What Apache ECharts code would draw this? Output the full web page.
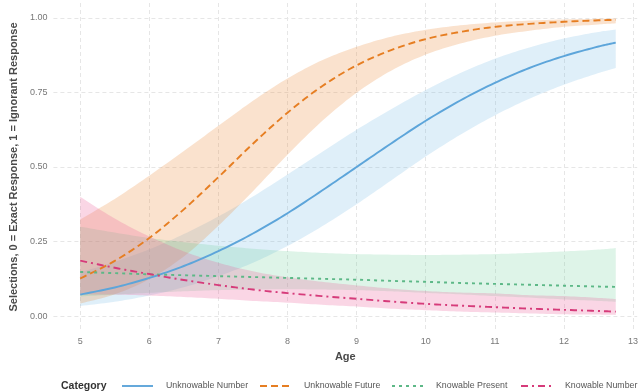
<!DOCTYPE html>
<html>
<head>
<meta charset="utf-8">
<script src="https://cdn.jsdelivr.net/npm/echarts@6/dist/echarts.min.js"></script>
<style>html,body{margin:0;padding:0;background:#fff}#c{width:641px;height:392px}</style>
</head>
<body>
<div id="c"></div>
<script>
const ages = [5, 5.5, 6, 6.5, 7, 7.5, 8, 8.5, 9, 9.5, 10, 10.5, 11, 11.5, 12, 12.5, 12.75];

const unknowableNumber   = [0.072, 0.096, 0.128, 0.168, 0.218, 0.277, 0.345, 0.421, 0.500, 0.579, 0.655, 0.723, 0.782, 0.832, 0.872, 0.904, 0.917];
const unknowableNumberLo = [0.034, 0.048, 0.069, 0.097, 0.134, 0.179, 0.235, 0.301, 0.375, 0.455, 0.535, 0.608, 0.673, 0.729, 0.776, 0.815, 0.832];
const unknowableNumberHi = [0.147, 0.182, 0.224, 0.275, 0.334, 0.401, 0.475, 0.550, 0.625, 0.694, 0.758, 0.815, 0.863, 0.901, 0.931, 0.953, 0.961];

const unknowableFuture   = [0.126, 0.185, 0.262, 0.358, 0.466, 0.578, 0.682, 0.771, 0.841, 0.892, 0.929, 0.953, 0.970, 0.980, 0.987, 0.992, 0.9936];
const unknowableFutureLo = [0.042, 0.073, 0.124, 0.200, 0.303, 0.419, 0.541, 0.654, 0.749, 0.823, 0.877, 0.914, 0.940, 0.957, 0.970, 0.978, 0.982];
const unknowableFutureHi = [0.324, 0.393, 0.471, 0.554, 0.638, 0.722, 0.797, 0.858, 0.903, 0.937, 0.960, 0.975, 0.985, 0.991, 0.995, 0.997, 0.998];

const knowablePresent   = [0.148, 0.144, 0.140, 0.137, 0.134, 0.131, 0.128, 0.125, 0.122, 0.118, 0.115, 0.111, 0.108, 0.105, 0.102, 0.099, 0.098];
const knowablePresentLo = [0.066, 0.072, 0.078, 0.083, 0.087, 0.089, 0.090, 0.089, 0.087, 0.083, 0.078, 0.073, 0.067, 0.062, 0.056, 0.051, 0.048];
const knowablePresentHi = [0.300, 0.280, 0.262, 0.248, 0.236, 0.226, 0.218, 0.212, 0.208, 0.206, 0.205, 0.206, 0.208, 0.212, 0.217, 0.223, 0.228];

const knowableNumber   = [0.186, 0.162, 0.141, 0.121, 0.104, 0.089, 0.077, 0.067, 0.058, 0.049, 0.041, 0.035, 0.030, 0.025, 0.021, 0.017, 0.015];
const knowableNumberLo = [0.073, 0.072, 0.069, 0.064, 0.058, 0.051, 0.045, 0.038, 0.032, 0.025, 0.020, 0.015, 0.012, 0.009, 0.006, 0.005, 0.004];
const knowableNumberHi = [0.400, 0.327, 0.267, 0.217, 0.179, 0.150, 0.130, 0.115, 0.103, 0.092, 0.084, 0.079, 0.076, 0.070, 0.067, 0.061, 0.057];

const xTicks = [5, 6, 7, 8, 9, 10, 11, 12, 13];
const yTicks = [0, 0.25, 0.5, 0.75, 1];

const categories = [
  {name: 'Unknowable Number', line: unknowableNumber, lo: unknowableNumberLo, hi: unknowableNumberHi, color: '#5DA5DA', band: 'rgba(93,173,226,0.2)', dash: null},
  {name: 'Unknowable Future', line: unknowableFuture, lo: unknowableFutureLo, hi: unknowableFutureHi, color: '#E67E22', band: 'rgba(235,140,60,0.25)', dash: [7, 4]},
  {name: 'Knowable Present', line: knowablePresent, lo: knowablePresentLo, hi: knowablePresentHi, color: '#5DB887', band: 'rgba(88,200,140,0.2)', dash: [3, 4]},
  {name: 'Knowable Number', line: knowableNumber, lo: knowableNumberLo, hi: knowableNumberHi, color: '#D63B7A', band: 'rgba(235,90,150,0.25)', dash: [7, 4, 2, 4]}
];

// smooth curve through the data points (cubic Hermite, rendering only)
function curve(xs, ys, api) {
  const n = xs.length, m = [];
  for (let i = 0; i < n; i++) {
    if (i === 0) m.push((ys[1] - ys[0]) / (xs[1] - xs[0]));
    else if (i === n - 1) m.push((ys[n - 1] - ys[n - 2]) / (xs[n - 1] - xs[n - 2]));
    else m.push((ys[i + 1] - ys[i - 1]) / (xs[i + 1] - xs[i - 1]));
  }
  const pts = [];
  for (let i = 0; i < n - 1; i++) {
    const h = xs[i + 1] - xs[i], steps = 10;
    for (let s = 0; s < steps; s++) {
      const t = s / steps, t2 = t * t, t3 = t2 * t;
      const y = (2 * t3 - 3 * t2 + 1) * ys[i] + (t3 - 2 * t2 + t) * h * m[i] +
                (-2 * t3 + 3 * t2) * ys[i + 1] + (t3 - t2) * h * m[i + 1];
      pts.push(api.coord([xs[i] + t * h, y]));
    }
  }
  pts.push(api.coord([xs[n - 1], ys[n - 1]]));
  return pts;
}

const catIndex = categories.map((c, k) => [ages[0], c.line[0], k]);
const LW = 1.9;

const series = [
  {
    type: 'custom', name: 'bands', z: 1, silent: true,
    encode: {x: 0, y: 1},
    data: catIndex,
    renderItem: function (params, api) {
      const c = categories[params.dataIndex];
      const upper = curve(ages, c.hi, api);
      const lower = curve(ages, c.lo, api).reverse();
      return {type: 'polygon', shape: {points: upper.concat(lower)}, style: {fill: c.band, stroke: null}};
    }
  },
  {
    type: 'custom', name: 'lines', z: 5, silent: true,
    encode: {x: 0, y: 1},
    data: catIndex,
    renderItem: function (params, api) {
      const c = categories[params.dataIndex];
      return {type: 'polyline', shape: {points: curve(ages, c.line, api)},
        style: {fill: null, stroke: c.color, lineWidth: LW, lineDash: c.dash}};
    }
  }
];

const FONT = 'Liberation Sans, Arial, sans-serif';

// legend drawn as graphic elements (real text)
const legendIconX = [122, 260, 392, 521];
const legendY = 386;
const legendGraphic = [{
  type: 'text', x: 61, y: legendY,
  style: {text: 'Category', font: 'bold 10.5px ' + FONT, fill: '#333', verticalAlign: 'middle'}
}];
categories.forEach((c, k) => {
  legendGraphic.push({
    type: 'line', shape: {x1: legendIconX[k], y1: legendY, x2: legendIconX[k] + 31, y2: legendY},
    style: {stroke: c.color, lineWidth: LW, lineDash: c.dash}
  });
  legendGraphic.push({
    type: 'text', x: legendIconX[k] + 44, y: legendY,
    style: {text: c.name, font: '8.8px ' + FONT, fill: '#555', verticalAlign: 'middle', textAlign: 'left'}
  });
});

const chart = echarts.init(document.getElementById('c'), null, {renderer: 'canvas'});
chart.setOption({
  animation: false,
  backgroundColor: '#fff',
  textStyle: {fontFamily: FONT},
  grid: {left: 50, right: 0, top: 3, bottom: 61, containLabel: false},
  xAxis: {
    type: 'value', min: 4.6125, max: 13.06,
    name: 'Age', nameLocation: 'middle', nameGap: 20,
    nameTextStyle: {fontFamily: FONT, fontWeight: 'bold', fontSize: 11, color: '#4a4a4a'},
    axisLine: {show: false},
    axisTick: {show: false, customValues: xTicks},
    axisLabel: {customValues: xTicks, color: '#777', fontSize: 9, margin: 6, fontFamily: FONT},
    splitLine: {show: true, lineStyle: {color: '#e6e6e6', type: [4, 3], width: 1}}
  },
  yAxis: {
    type: 'value', min: -0.05, max: 1.05,
    name: 'Selections, 0 = Exact Response, 1 = Ignorant Response', nameLocation: 'middle', nameGap: 33,
    nameTextStyle: {fontFamily: FONT, fontWeight: 'bold', fontSize: 11, color: '#4a4a4a'},
    axisLine: {show: false},
    axisTick: {show: false, customValues: yTicks},
    axisLabel: {customValues: yTicks, color: '#777', fontSize: 9, margin: 6, fontFamily: FONT,
      formatter: v => v.toFixed(2)},
    splitLine: {show: true, lineStyle: {color: '#e6e6e6', type: [4, 3], width: 1}}
  },
  graphic: legendGraphic,
  series: series
});
</script>
</body>
</html>
